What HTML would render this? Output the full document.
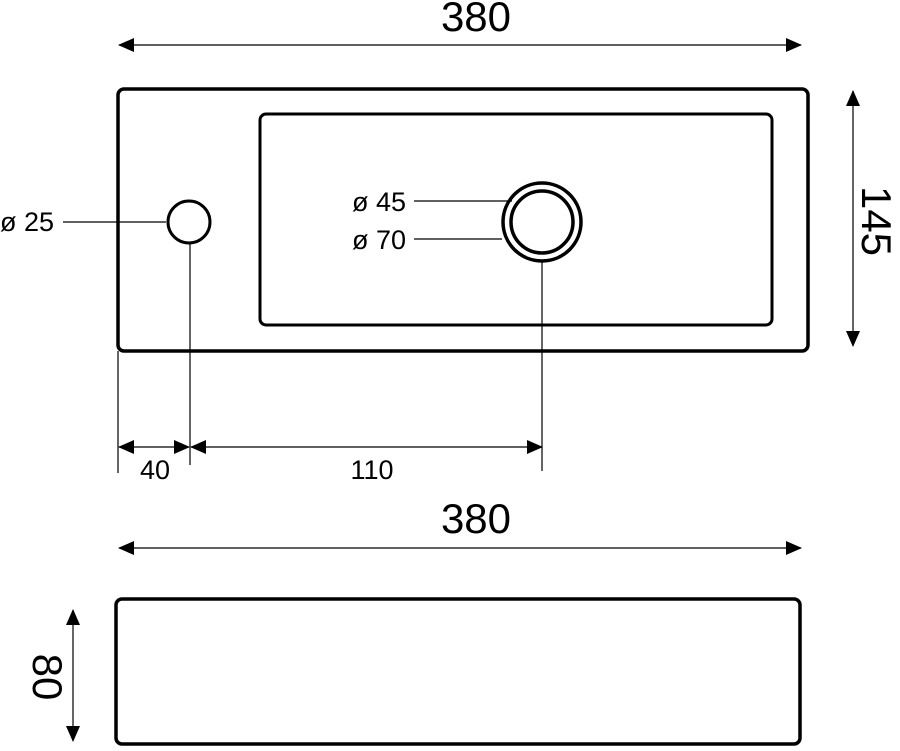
<!DOCTYPE html>
<html><head><style>html,body{margin:0;padding:0;background:#fff}</style></head><body>
<svg width="900" height="746" viewBox="0 0 900 746" xmlns="http://www.w3.org/2000/svg" font-family="Liberation Sans, sans-serif" fill="#000">
<defs>
<marker id="a" markerWidth="16" markerHeight="14" refX="15" refY="7" orient="auto-start-reverse" markerUnits="userSpaceOnUse"><path d="M0,0 L16,7 L0,14 z"/></marker>
</defs>
<g fill="none" stroke="#000">
<rect x="118" y="89" width="690" height="262" rx="6" stroke-width="3.5"/>
<rect x="260" y="114" width="512" height="211" rx="6" stroke-width="3"/>
<circle cx="189" cy="222" r="21" stroke-width="3"/>
<circle cx="542" cy="222" r="39" stroke-width="3.5"/>
<circle cx="542" cy="222" r="31" stroke-width="3.5"/>
<rect x="116" y="599" width="684" height="145" rx="6" stroke-width="3.5"/>
<g stroke-width="1.2">
<line x1="119" y1="45" x2="801" y2="45" marker-start="url(#a)" marker-end="url(#a)"/>
<line x1="119" y1="548" x2="801" y2="548" marker-start="url(#a)" marker-end="url(#a)"/>
<line x1="853" y1="91" x2="853" y2="346" marker-start="url(#a)" marker-end="url(#a)"/>
<line x1="73" y1="610" x2="73" y2="741" marker-start="url(#a)" marker-end="url(#a)"/>
<line x1="119" y1="447" x2="189" y2="447" marker-start="url(#a)" marker-end="url(#a)"/>
<line x1="191" y1="447" x2="542" y2="447" marker-start="url(#a)" marker-end="url(#a)"/>
<line x1="118" y1="351" x2="118" y2="473"/>
<line x1="190" y1="243" x2="190" y2="465"/>
<line x1="542" y1="261" x2="542" y2="471"/>
<line x1="63" y1="222" x2="166" y2="222"/>
<line x1="414" y1="201" x2="512" y2="201"/>
<line x1="414" y1="239" x2="502" y2="239"/>
</g>
</g>
<text x="476" y="31" font-size="42" text-anchor="middle">380</text>
<text x="476" y="533" font-size="42" text-anchor="middle">380</text>
<text x="155" y="479" font-size="27" text-anchor="middle">40</text>
<text x="372" y="479" font-size="27" text-anchor="middle">110</text>
<text x="0" y="231" font-size="27">ø 25</text>
<text x="352" y="211" font-size="27">ø 45</text>
<text x="352" y="249" font-size="27">ø 70</text>
<text transform="translate(862,221) rotate(90)" font-size="42" text-anchor="middle">145</text>
<text transform="translate(33,677) rotate(90)" font-size="42" text-anchor="middle">80</text>
</svg>
</body></html>
